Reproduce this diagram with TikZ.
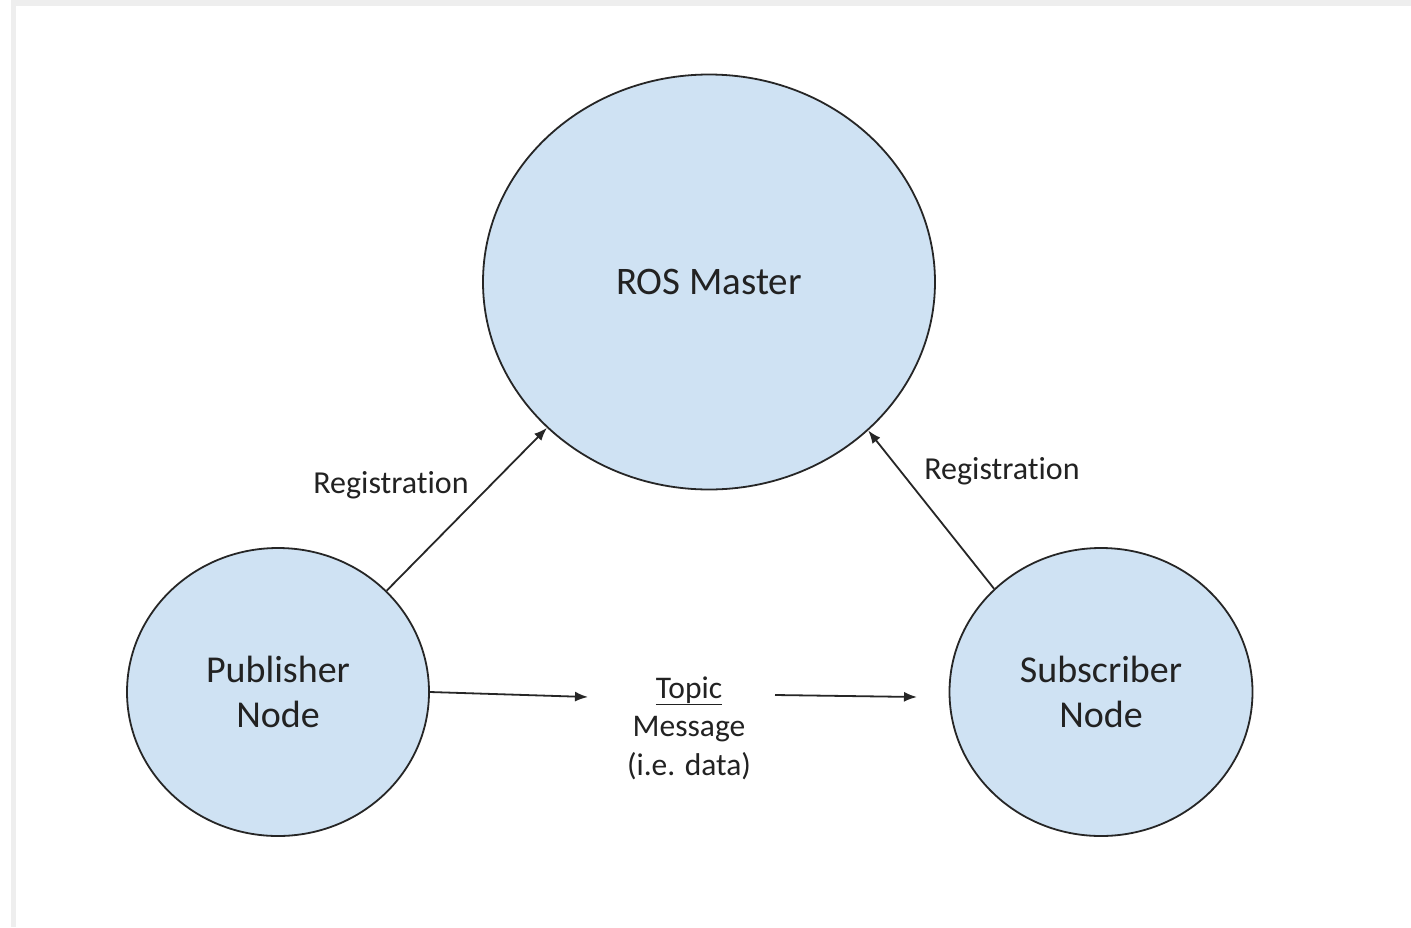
\documentclass[tikz,border=0pt]{standalone}
\usepackage{fontspec}
\setmainfont{Carlito}[Ligatures=NoCommon]
\usetikzlibrary{shapes.geometric,arrows.meta}
\definecolor{nodefill}{HTML}{CFE2F3}
\definecolor{txt}{HTML}{222222}
\definecolor{framegray}{HTML}{EEEEEE}
\tikzset{
  rosnode/.style={ellipse, draw=black!85, line width=1.8pt, fill=nodefill, inner sep=0pt, text=txt, align=center},
  conn/.style={draw=black!85, line width=1.8pt, -{Latex[length=13pt,width=10pt]}},
  lbl/.style={text=txt, inner sep=0pt, align=center},
}
\begin{document}
\begin{tikzpicture}[x=1pt,y=-1pt]
\useasboundingbox (0,0) rectangle (1411,927);
\fill[white] (0,0) rectangle (1411,927);
\fill[framegray] (11,0) rectangle (1411,6);
\fill[framegray] (11,0) rectangle (16,927);

\node[rosnode, minimum width=452pt, minimum height=415pt, font=\fontsize{39}{44}\selectfont] (master) at (709,282) {ROS Master};
\node[rosnode, minimum width=302pt, minimum height=288pt, font=\fontsize{38}{45}\selectfont] (pub) at (278,692) {Publisher\\Node};
\node[rosnode, minimum width=303pt, minimum height=288pt, font=\fontsize{38}{45}\selectfont] (sub) at (1101,692) {Subscriber\\Node};

\node[lbl, font=\fontsize{32}{36}\selectfont] (reg1) at (391,485) {Registration};
\node[lbl, font=\fontsize{32}{36}\selectfont] (reg2) at (1002,471) {Registration};
\node[lbl, font=\fontsize{31.5}{38.5}\selectfont] (topic) at (689,728) {\underline{Topic}\\Message\\(i.e. data)};

\coordinate (t1) at (588,697);
\coordinate (t2) at (775,695);
\coordinate (t3) at (917,697);

\draw[conn] (pub.43) -- (master.222);
\draw[conn] (sub.136) -- (master.317.6);
\draw[conn] (pub.east) -- (t1);
\draw[conn] (t2) -- (t3);
\end{tikzpicture}
\end{document}
